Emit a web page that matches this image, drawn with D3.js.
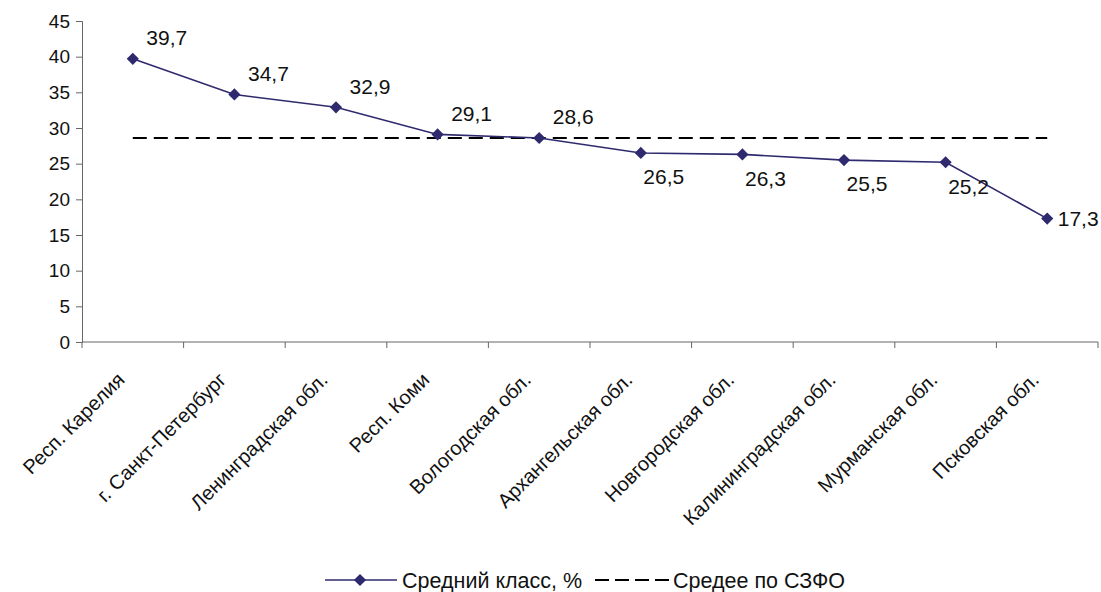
<!DOCTYPE html>
<html><head><meta charset="utf-8">
<script src="https://cdn.jsdelivr.net/npm/d3@7"></script>
<style>body{margin:0;background:#fff;} text{font-family:"Liberation Sans",Arial,sans-serif;}</style>
</head><body>
<svg id="c" width="1101" height="592"></svg>
<script>
const categories = ["Респ. Карелия","г. Санкт-Петербург","Ленинградская обл.","Респ. Коми","Вологодская обл.","Архангельская обл.","Новгородская обл.","Калининградская обл.","Мурманская обл.","Псковская обл."];
const values = [39.7,34.7,32.9,29.1,28.6,26.5,26.3,25.5,25.2,17.3];
const average = 28.6;
const labelPlacement = ["above","above","above","above","above","below","below","below","below","right"];
const yTicks = [0,5,10,15,20,25,30,35,40,45];
const seriesName = "Средний класс, %";
const avgName = "Средее по СЗФО";

const svg = d3.select("#c");
const L = 82, R = 1098, T = 21, B = 342;
const x = d3.scaleBand().domain(categories).range([L, R]);
const y = d3.scaleLinear().domain([0,45]).range([B, T]);
const lineColor = "#2f2a6e";
const axisColor = "#666";

// y axis
const ya = svg.append("g").attr("transform",`translate(${L},0)`)
  .call(d3.axisLeft(y).tickValues(yTicks).tickSize(6).tickPadding(6));
ya.select(".domain").attr("stroke",axisColor);
ya.selectAll(".tick line").attr("stroke",axisColor);
ya.selectAll(".tick text").attr("font-size",19).attr("fill","#111").style("font-family","Liberation Sans, Arial, sans-serif");

// x axis
const xa = svg.append("g").attr("transform",`translate(0,${B})`);
xa.append("line").attr("x1",L).attr("x2",R).attr("y1",0).attr("y2",0).attr("stroke",axisColor);
const bounds = categories.map(c=>x(c)).concat([R]);
xa.selectAll("line.t").data(bounds).enter().append("line").attr("class","t")
  .attr("x1",d=>d).attr("x2",d=>d).attr("y1",0).attr("y2",6).attr("stroke",axisColor);
xa.selectAll("text.c").data(categories).enter().append("text").attr("class","c")
  .attr("transform",d=>`translate(${x(d)+x.bandwidth()/2-7},${39}) rotate(-45)`)
  .attr("text-anchor","end").attr("font-size",20).attr("fill","#111").text(d=>d);

const cx = (d,i)=>x(categories[i])+x.bandwidth()/2;

// average dashed line
svg.append("line").attr("x1",cx(null,0)).attr("x2",cx(null,categories.length-1))
  .attr("y1",y(average)).attr("y2",y(average))
  .attr("stroke","#000").attr("stroke-width",2).attr("stroke-dasharray","14,7");

// series line
svg.append("path").datum(values)
  .attr("d",d3.line().x((d,i)=>cx(d,i)).y(d=>y(d)))
  .attr("fill","none").attr("stroke",lineColor).attr("stroke-width",1.6);
const diamond = d3.symbol().type(d3.symbolDiamond2).size(95);
svg.selectAll("path.m").data(values).enter().append("path").attr("class","m")
  .attr("d",diamond).attr("fill",lineColor)
  .attr("transform",(d,i)=>`translate(${cx(d,i)},${y(d)})`);

// value labels
const off = {above:[34,-21], below:[23,24], right:[31,0]};
svg.selectAll("text.v").data(values).enter().append("text").attr("class","v")
  .attr("x",(d,i)=>cx(d,i)+off[labelPlacement[i]][0])
  .attr("y",(d,i)=>y(d)+off[labelPlacement[i]][1])
  .attr("dy","0.35em").attr("text-anchor","middle").attr("font-size",21).attr("fill","#111")
  .text(d=>d.toFixed(1).replace(".",","));

// legend
const lg = svg.append("g").attr("transform","translate(0,580)");
lg.append("line").attr("x1",325).attr("x2",397).attr("y1",0).attr("y2",0).attr("stroke",lineColor).attr("stroke-width",1.6);
lg.append("path").attr("d",diamond).attr("fill",lineColor).attr("transform","translate(360,0)");
lg.append("text").attr("x",402).attr("y",0).attr("dy","0.35em").attr("font-size",21.5).attr("fill","#111").text(seriesName);
lg.append("line").attr("x1",595).attr("x2",669).attr("y1",0).attr("y2",0).attr("stroke","#000").attr("stroke-width",2).attr("stroke-dasharray","14,6");
lg.append("text").attr("x",673).attr("y",0).attr("dy","0.35em").attr("font-size",21.5).attr("fill","#111").text(avgName);
</script>
</body></html>
